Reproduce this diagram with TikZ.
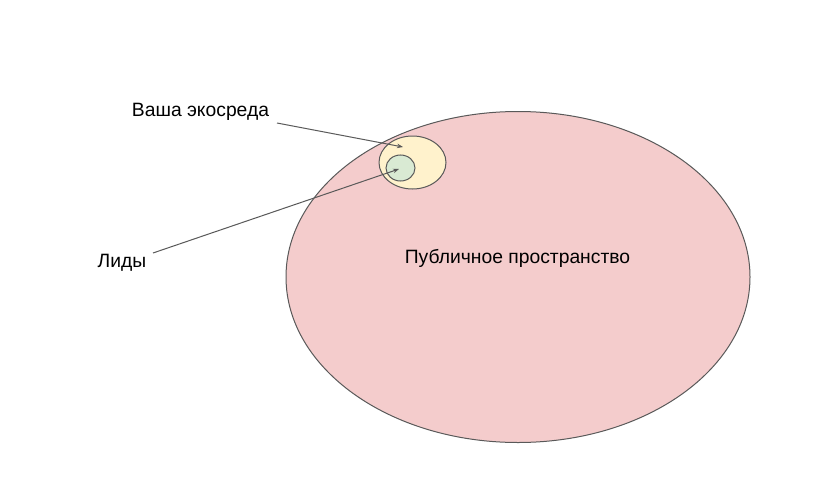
\documentclass[tikz,border=0pt]{standalone}
\usepackage{fontspec}
\setmainfont{Liberation Sans}
\usetikzlibrary{arrows.meta}
\definecolor{pinkf}{HTML}{F4CCCC}
\definecolor{yelf}{HTML}{FFF2CC}
\definecolor{grnf}{HTML}{D9EAD3}
\definecolor{edge}{HTML}{595959}
\begin{document}
\begin{tikzpicture}[x=1pt,y=-1pt,
  blob/.style={draw=edge,line width=1pt},
  lbl/.style={inner sep=0pt,font=\fontsize{19.3}{21}\selectfont},
  ptr/.style={draw=edge,line width=1pt,-{Stealth[length=6pt,width=4.5pt]}}]
\useasboundingbox (0,0) rectangle (840,495);
\fill[white] (0,0) rectangle (840,495);
\draw[blob,fill=pinkf] (518,277) ellipse [x radius=232, y radius=165.5];
\draw[blob,fill=yelf] (412.5,162.5) ellipse [x radius=33.5, y radius=26.5];
\draw[blob,fill=grnf] (400.5,168) ellipse [x radius=14.5, y radius=13];
\node[lbl] (eco) at (200.5,112) {Ваша экосреда};
\node[lbl] (lid) at (122,263) {Лиды};
\node[lbl] (pub) at (517.5,258) {Публичное пространство};
\coordinate (ecoT) at (403,147);
\coordinate (lidT) at (399,169);
\draw[ptr] (277,123) -- (ecoT);
\draw[ptr] (153,253) -- (lidT);
\end{tikzpicture}
\end{document}
